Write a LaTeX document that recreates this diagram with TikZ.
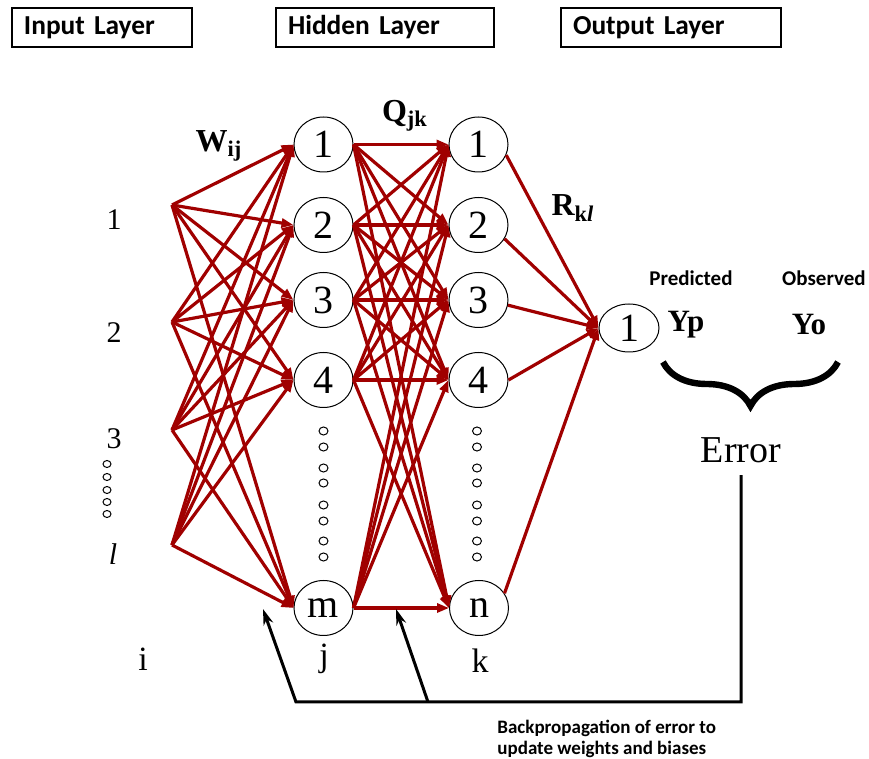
\documentclass[tikz,border=0pt]{standalone}
\usepackage{fontspec}
\setmainfont{Liberation Serif}
\newfontfamily\calfont{Carlito}
\usetikzlibrary{shapes.geometric,arrows.meta,decorations.pathreplacing}
\definecolor{dunkelrot}{RGB}{160,0,0}

\begin{document}
\begin{tikzpicture}[x=0.5pt,y=-0.5pt,
		neuron/.style={draw,ellipse,line width=0.5pt,inner sep=0pt,minimum width=29.5pt,minimum height=27.5pt,font=\fontsize{20}{20}\selectfont},
		gewicht/.style={draw=dunkelrot,line width=1.6pt,-{Triangle[length=6pt,width=4.5pt]}},
		punkt/.style={draw,ellipse,line width=0.5pt,inner sep=0pt,minimum width=4.5pt,minimum height=4pt},
		kasten/.style={draw,line width=1.2pt,minimum height=19.5pt,inner ysep=0pt,inner xsep=6pt,align=left,font=\calfont\bfseries\fontsize{13.7}{13.7}\selectfont},
		etikett/.style={font=\fontsize{15}{15}\selectfont},
		index/.style={font=\fontsize{17}{17}\selectfont},
		gross/.style={font=\bfseries\fontsize{16}{16}\selectfont},
		klein/.style={font=\calfont\bfseries\fontsize{10.5}{10.5}\selectfont},
		rueck/.style={line width=1.5pt}]
		\useasboundingbox (0,0) rectangle (869,759);
		
		% Ueberschriften der Schichten
		\node[kasten,text width=78pt] (inputbox) at (102,27.5) {Input Layer};
		\node[kasten,text width=97pt] (hiddenbox) at (385,27.5) {Hidden Layer};
		\node[kasten,text width=98pt] (outputbox) at (671,27.5) {Output Layer};
		
		% Eingaenge
		\coordinate (in1) at (172,205);
		\coordinate (in2) at (172,322);
		\coordinate (in3) at (172,430);
		\coordinate (in4) at (172,545);
		\node[etikett] (e1) at (114,220) {1};
		\node[etikett] (e2) at (114,333) {2};
		\node[etikett] (e3) at (114,439) {3};
		\node[etikett] (e4) at (113,554) {\textit{l}};
		\foreach \y in {464,477,490,502,514}
			\node[punkt,minimum width=4pt,minimum height=3.5pt] (ep\y) at (107,\y) {};
		
		% Verdeckte Schicht j
		\node[neuron] (h1) at (323.5,144.5) {1};
		\node[neuron] (h2) at (323.5,225) {2};
		\node[neuron] (h3) at (323.5,300) {3};
		\node[neuron] (h4) at (323.5,380) {4};
		\node[neuron] (hm) at (323.5,608) {m};
		\foreach \y in {431,447,468,483,505,521,541,557}
			\node[punkt] (hp\y) at (323.5,\y) {};
		
		% Verdeckte Schicht k
		\node[neuron] (k1) at (478.5,144.5) {1};
		\node[neuron] (k2) at (478.5,225) {2};
		\node[neuron] (k3) at (478.5,300) {3};
		\node[neuron] (k4) at (478.5,380) {4};
		\node[neuron] (kn) at (479,608) {n};
		\foreach \y in {431,447,468,483,505,521,541,557}
			\node[punkt] (kp\y) at (477,\y) {};
		
		% Ausgang
		\node[neuron,minimum width=30pt,minimum height=24pt] (o1) at (629,328) {1};
		
		% Gewichte W
		\foreach \e in {1,2,3,4}
			\foreach \h in {h1,h2,h3,h4,hm}
				\draw[gewicht] (in\e) -- (\h.west);
		
		% Gewichte Q
		\foreach \a in {h1,h2,h3,h4,hm}
			\foreach \b in {k1,k2,k3,k4,kn}
				\draw[gewicht] (\a.east) -- (\b.west);
		
		% Gewichte R
		\foreach \k/\w in {k1/-21,k2/-28,k3/-10,k4/0,kn/30}
			\draw[gewicht] (\k.\w) -- (o1.west);
		
		% Beschriftungen
		\node[gross] (w) at (219,146) {W\textsubscript{ij}};
		\node[gross] (q) at (405,116) {Q\textsubscript{jk}};
		\node[gross] (r) at (573,208) {R\textsubscript{k\textit{l}}};
		\node[index] (ii) at (143,659) {i};
		\node[index] (jj) at (324,659) {j};
		\node[index] (kk) at (480,661) {k};
		
		% Vorhersage und Beobachtung
		\node[klein] (pred) at (691,278) {Predicted};
		\node[klein] (obs) at (824,278) {Observed};
		\node[gross,font=\bfseries\fontsize{15.5}{15.5}\selectfont] (yp) at (686,325) {Yp};
		\node[gross,font=\bfseries\fontsize{15.5}{15.5}\selectfont] (yo) at (809,325) {Yo};
		\draw[decorate,decoration={brace,mirror,amplitude=22pt},line width=3.2pt] (663,362) -- (838,362);
		\node[font=\fontsize{19}{19}\selectfont,inner sep=6pt] (fehler) at (741,450) {Error};
		
		% Rueckfuehrung des Fehlers
		\coordinate (ecke1) at (296,702);
		\coordinate (ecke2) at (428,702);
		\coordinate (spitze1) at (263,609);
		\coordinate (spitze2) at (396,609);
		\draw[rueck,{Stealth[length=8pt,width=5pt]}-] (spitze1) -- (ecke1) -| (fehler.south);
		\draw[rueck,-{Stealth[length=8pt,width=5pt]}] (ecke2) -- (spitze2);
		\node[klein,font=\calfont\bfseries\fontsize{9.5}{10.5}\selectfont,align=left,anchor=north west,inner sep=0pt] (bptext) at (497,720) {Backpropagation of error to\\update weights and biases};
	\end{tikzpicture}
\end{document}
